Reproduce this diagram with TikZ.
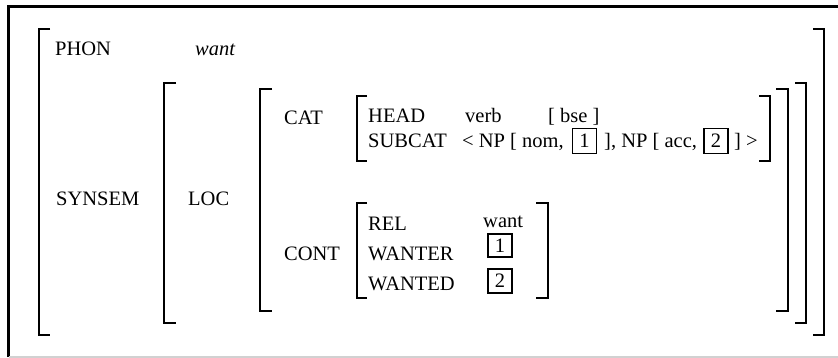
\documentclass[tikz,border=0pt]{standalone}
\usepackage{fontspec}
\setmainfont{Liberation Serif}
\begin{document}
\begin{tikzpicture}[x=1pt,y=-1pt,
  lbl/.style={inner sep=0pt,anchor=base west,font=\fontsize{20.5}{24}\selectfont},
  tag/.style={draw,line width=1.1pt,inner sep=0pt,minimum width=24pt,minimum height=25pt,font=\fontsize{20.5}{24}\selectfont},
  brk/.style={line width=1.6pt},
  frame/.style={line width=2.6pt}]
\useasboundingbox (0,0) rectangle (838,358);
% outer frame
\draw[frame] (8.5,357) -- (8.5,6.3) -- (838,6.3);
\draw[line width=1.2pt,black!18] (8.5,357) -- (838,357);
% brackets
\draw[brk] (50,29) -- (39,29) -- (39,335) -- (50,335);
\draw[brk] (813,29) -- (824,29) -- (824,335) -- (813,335);
\draw[brk] (176,83) -- (164,83) -- (164,323) -- (176,323);
\draw[brk] (795,83) -- (806,83) -- (806,323) -- (795,323);
\draw[brk] (272,89) -- (260,89) -- (260,311) -- (272,311);
\draw[brk] (776,89) -- (788,89) -- (788,311) -- (776,311);
\draw[brk] (367,96) -- (357,96) -- (357,161) -- (367,161);
\draw[brk] (759,96) -- (770,96) -- (770,161) -- (759,161);
\draw[brk] (367,203) -- (357,203) -- (357,298) -- (367,298);
\draw[brk] (536,203) -- (548,203) -- (548,298) -- (536,298);
% labels
\node[lbl] (phon) at (55,56) {PHON};
\node[lbl] (phonv) at (195,56) {\itshape want};
\node[lbl] (synsem) at (56,206) {SYNSEM};
\node[lbl] (loc) at (188,206) {LOC};
\node[lbl] (cat) at (284,125) {CAT};
\node[lbl] (cont) at (284,260) {CONT};
\node[lbl] (head) at (368,123) {HEAD};
\node[lbl] (headv) at (465,123) {verb};
\node[lbl] (headf) at (548,123) {[ bse ]};
\node[lbl] (subcat) at (368,148) {SUBCAT};
\node[lbl] (s1) at (462,148) {< NP [ nom,};
\node[tag] (b1) at (584.5,141) {1};
\node[lbl] (s2) at (604,148) {], NP [ acc,};
\node[tag] (b2) at (716,141) {2};
\node[lbl] (s3) at (734,148) {] >};
\node[lbl] (rel) at (368,230) {REL};
\node[lbl] (relv) at (483,228) {want};
\node[lbl] (wanter) at (368,260) {WANTER};
\node[tag,minimum height=23pt] (b3) at (500,245.5) {1};
\node[lbl] (wanted) at (368,290) {WANTED};
\node[tag,minimum height=24pt] (b4) at (500,281) {2};
\end{tikzpicture}
\end{document}
